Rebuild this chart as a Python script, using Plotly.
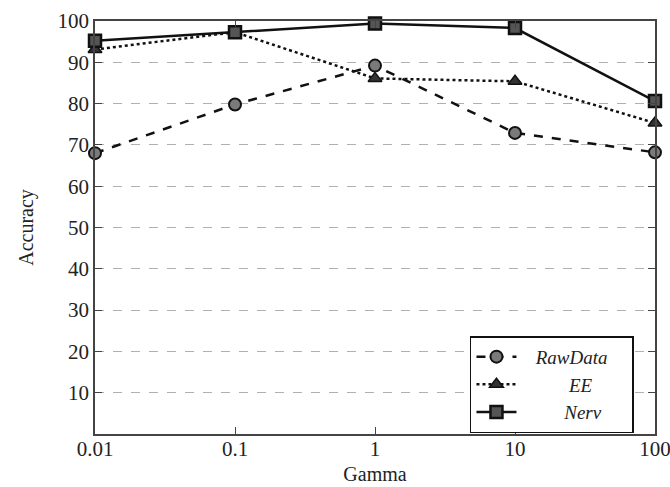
import plotly.graph_objects as go

gamma = [0.01, 0.1, 1, 10, 100]
gamma_labels = ["0.01", "0.1", "1", "10", "100"]
raw_data = [68.0, 79.8, 89.2, 72.9, 68.2]
ee = [93.1, 97.3, 86.1, 85.4, 75.3]
nerv = [95.2, 97.3, 99.4, 98.3, 80.6]
y_ticks = [10, 20, 30, 40, 50, 60, 70, 80, 90, 100]
NB = "\u00a0"
series_names = [NB * 3 + "<i>RawData</i>" + NB * 4, NB * 10 + "<i>EE</i>", NB * 9 + "<i>Nerv</i>"]

font_family = "Liberation Serif"

fig = go.Figure()
fig.add_trace(go.Scatter(
    x=gamma, y=raw_data, name=series_names[0], mode="lines+markers",
    line=dict(color="#111", width=2.5, dash="dash"),
    marker=dict(symbol="circle", size=12, color="#7a7a7a", line=dict(color="#111", width=2)),
    cliponaxis=False,
))
fig.add_trace(go.Scatter(
    x=gamma, y=ee, name=series_names[1], mode="lines+markers",
    line=dict(color="#111", width=2.5, dash="dot"),
    marker=dict(symbol="triangle-up", size=12, color="#333", line=dict(color="#111", width=1.5)),
    cliponaxis=False,
))
fig.add_trace(go.Scatter(
    x=gamma, y=nerv, name=series_names[2], mode="lines+markers",
    line=dict(color="#111", width=2.5),
    marker=dict(symbol="square", size=12, color="#555", line=dict(color="#111", width=2.5)),
    cliponaxis=False,
))

fig.update_layout(
    width=670, height=487,
    margin=dict(l=95, r=15, t=21, b=53, autoexpand=False),
    plot_bgcolor="white", paper_bgcolor="white",
    font=dict(family=font_family, size=21, color="#222"),
    showlegend=True,
    legend=dict(
        x=0.6696, y=0.2366, xanchor="left", yanchor="top",
        bordercolor="#111", borderwidth=1.5, bgcolor="white",
        font=dict(family=font_family, size=19, color="#222"),
        tracegroupgap=0, itemwidth=40,
    ),
)
fig.update_xaxes(
    type="log", range=[-2, 2],
    tickvals=gamma, ticktext=gamma_labels,
    showgrid=False, zeroline=False,
    showline=True, mirror="ticks", linecolor="#444", linewidth=1.5,
    ticks="inside", ticklen=7, tickcolor="#444", tickwidth=1,
    ticklabeloverflow="allow", ticklabelstandoff=-5,
    automargin=False,
    title=dict(text="Gamma", font=dict(size=20), standoff=7),
)
fig.update_yaxes(
    range=[0, 100], tickvals=y_ticks,
    showgrid=True, gridcolor="#b0b0b0", gridwidth=1, griddash="dash",
    zeroline=False,
    showline=True, mirror="ticks", linecolor="#444", linewidth=1.5,
    ticks="inside", ticklen=7, tickcolor="#444", tickwidth=1,
    automargin=False,
    title=dict(text="Accuracy", font=dict(size=20), standoff=19),
)

fig.write_html("out.html")
